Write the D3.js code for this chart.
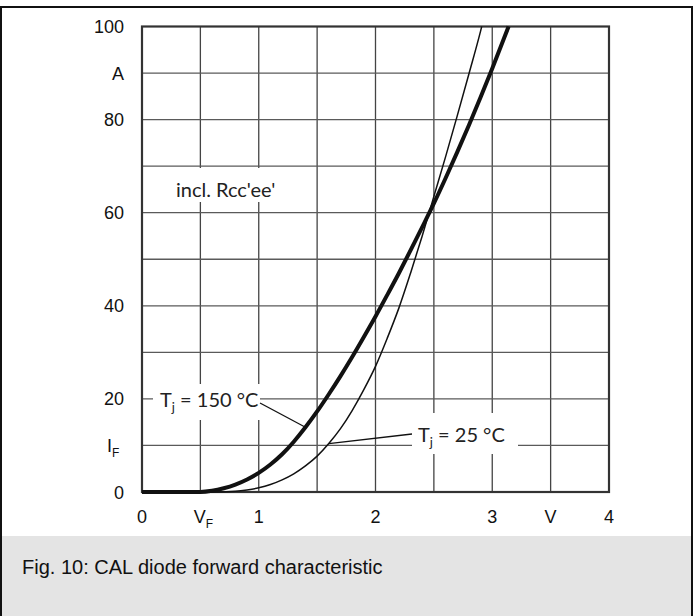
<!DOCTYPE html>
<html>
<head>
<meta charset="utf-8">
<script src="https://cdn.jsdelivr.net/npm/d3@7"></script>
<style>
  body { margin: 0; background: #fff; }
  svg { display: block; }
</style>
</head>
<body>
<div id="vis-holder"></div>
<script>
// Chart data
const hotV = [0, 0.5, 0.6, 0.7, 0.8, 0.9, 1.0, 1.1, 1.2, 1.3, 1.4, 1.5, 1.6, 1.7, 1.8, 1.9, 2.0, 2.1, 2.2, 2.3, 2.4, 2.5, 2.6, 2.7, 2.8, 2.9, 3.0, 3.1, 3.14];
const hotI = [0, 0, 0.25, 0.8, 1.6, 2.7, 4.1, 5.9, 8.1, 10.8, 13.9, 17.3, 21.0, 24.9, 29.0, 33.3, 37.7, 42.3, 47.0, 51.9, 56.9, 62.0, 67.4, 73.0, 78.8, 84.8, 91.0, 97.4, 100];
const coldV = [0, 0.65, 0.8, 0.9, 1.0, 1.1, 1.2, 1.3, 1.4, 1.5, 1.6, 1.7, 1.8, 1.9, 2.0, 2.1, 2.2, 2.3, 2.4, 2.5, 2.6, 2.7, 2.8, 2.9, 2.91];
const coldI = [0, 0, 0.15, 0.45, 0.9, 1.6, 2.6, 3.9, 5.6, 7.7, 10.4, 13.6, 17.5, 22.0, 27.0, 33.0, 39.5, 47.0, 55.0, 63.5, 72.0, 80.8, 89.8, 99.0, 100];

const xTicks = [0, 0.5, 1, 2, 3, 3.5, 4];
const xLabels = ["0", "V|F", "1", "2", "3", "V", "4"];
const yTicks = [0, 10, 20, 40, 60, 80, 90, 100];
const yLabels = ["0", "I|F", "20", "40", "60", "80", "A", "100"];

const caption = "Fig. 10: CAL diode forward characteristic";

const width = 698, height = 616;
const plot = { left: 142, right: 609, top: 26.5, bottom: 492 };

const svg = d3.select("#vis-holder")
  .append("svg")
  .attr("width", width)
  .attr("height", height);

// caption band + frame
svg.append("rect")
  .attr("x", 2).attr("y", 536)
  .attr("width", 689).attr("height", 82)
  .attr("fill", "#e4e4e4");

svg.append("rect")
  .attr("x", 1).attr("y", 7)
  .attr("width", 691).attr("height", 620)
  .attr("fill", "none")
  .attr("stroke", "#111")
  .attr("stroke-width", 2);

svg.append("text")
  .attr("x", 22).attr("y", 574)
  .attr("font-family", "Liberation Sans, Arial, sans-serif")
  .attr("font-size", "20px")
  .attr("fill", "#111")
  .text(caption);

// scales
const x = d3.scaleLinear().domain([0, 4]).range([plot.left, plot.right]);
const y = d3.scaleLinear().domain([0, 100]).range([plot.bottom, plot.top]);

// grid
const grid = svg.append("g")
  .attr("stroke", "#444")
  .attr("stroke-width", 1.3);

grid.selectAll(".vg")
  .data(d3.range(0.5, 4, 0.5))
  .enter().append("line")
  .attr("x1", d => x(d)).attr("x2", d => x(d))
  .attr("y1", plot.top).attr("y2", plot.bottom);

grid.selectAll(".hg")
  .data(d3.range(10, 100, 10))
  .enter().append("line")
  .attr("x1", plot.left).attr("x2", plot.right)
  .attr("y1", d => y(d)).attr("y2", d => y(d))
  .attr("stroke", "#5a5a5a");

// white boxes behind the in-plot labels
const boxes = [
  [172, 168, 110, 34],
  [153, 384, 107, 36],
  [412, 413, 106, 41]
];
svg.selectAll(".box")
  .data(boxes)
  .enter().append("rect")
  .attr("x", d => d[0]).attr("y", d => d[1])
  .attr("width", d => d[2]).attr("height", d => d[3])
  .attr("fill", "#fff");

// plot border
svg.append("rect")
  .attr("x", plot.left).attr("y", plot.top)
  .attr("width", plot.right - plot.left)
  .attr("height", plot.bottom - plot.top)
  .attr("fill", "none")
  .attr("stroke", "#333")
  .attr("stroke-width", 2.2);

// curves
const line = d3.line()
  .x(d => x(d[0]))
  .y(d => y(d[1]))
  .curve(d3.curveMonotoneX);

svg.append("path")
  .attr("d", line(d3.zip(coldV, coldI)))
  .attr("fill", "none")
  .attr("stroke", "#111")
  .attr("stroke-width", 1.5);

svg.append("path")
  .attr("d", line(d3.zip(hotV, hotI)))
  .attr("fill", "none")
  .attr("stroke", "#111")
  .attr("stroke-width", 4);

// leader lines
svg.append("line")
  .attr("x1", 260).attr("y1", 403)
  .attr("x2", x(1.4)).attr("y2", y(13.9))
  .attr("stroke", "#111").attr("stroke-width", 1.3);

svg.append("line")
  .attr("x1", 412).attr("y1", 434)
  .attr("x2", x(1.6)).attr("y2", y(10.4))
  .attr("stroke", "#111").attr("stroke-width", 1.3);

// in-plot labels
const lblFont = "Lato, 'Open Sans', sans-serif";

function tjLabel(tx, ty, temp) {
  const t = svg.append("text")
    .attr("x", tx).attr("y", ty)
    .attr("font-family", lblFont)
    .attr("font-size", "20px")
    .attr("fill", "#222");
  t.append("tspan").text("T");
  t.append("tspan").attr("font-size", "13px").attr("dy", 5).text("j");
  t.append("tspan").attr("dy", -5).text(" = " + temp + " °C");
}
tjLabel(160, 407, "150");
tjLabel(418, 442, "25");

svg.append("text")
  .attr("x", 176).attr("y", 197)
  .attr("font-family", lblFont)
  .attr("font-size", "20px")
  .attr("fill", "#222")
  .text("incl. Rcc'ee'");

// tick labels
const tickFont = "Liberation Sans, Arial, sans-serif";

function addLabel(g, s) {
  const parts = s.split("|");
  g.append("tspan").text(parts[0]);
  if (parts.length > 1) {
    g.append("tspan").attr("font-size", "12px").attr("dy", 5).text(parts[1]);
  }
}

svg.selectAll(".xl")
  .data(xTicks)
  .enter().append("text")
  .attr("x", (d, i) => x(d) + (xLabels[i].includes("|") ? 3 : 0))
  .attr("y", 523)
  .attr("text-anchor", "middle")
  .attr("font-family", tickFont)
  .attr("font-size", "18px")
  .attr("fill", "#111")
  .each(function (d, i) { addLabel(d3.select(this), xLabels[i]); });

svg.selectAll(".yl")
  .data(yTicks)
  .enter().append("text")
  .attr("x", (d, i) => yLabels[i].includes("|") ? 107 : 124)
  .attr("y", d => y(d) + 6.5)
  .attr("text-anchor", (d, i) => yLabels[i].includes("|") ? "start" : "end")
  .attr("font-family", tickFont)
  .attr("font-size", "18px")
  .attr("fill", "#111")
  .each(function (d, i) { addLabel(d3.select(this), yLabels[i]); });
</script>
</body>
</html>
